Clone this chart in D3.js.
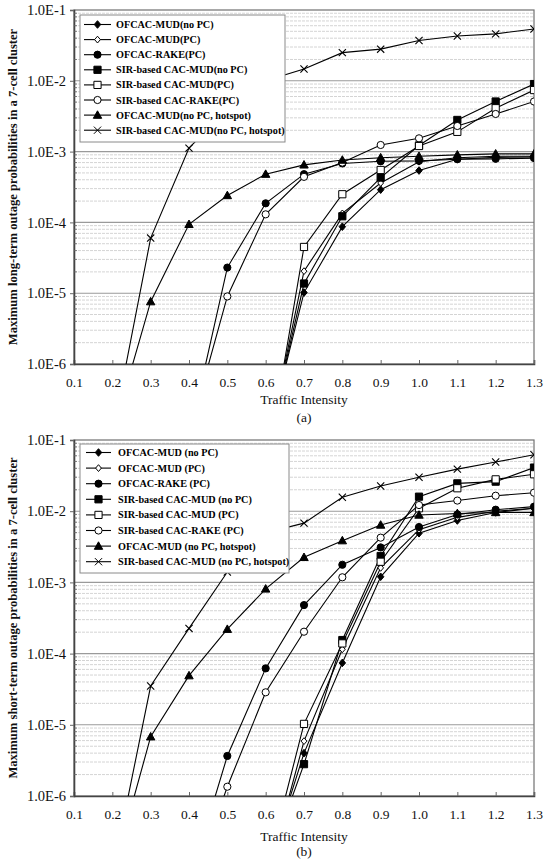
<!DOCTYPE html>
<html><head><meta charset="utf-8">
<script src="https://cdn.jsdelivr.net/npm/d3@7"></script>
<style>body{margin:0;background:#fff}svg{display:block}</style>
</head><body>
<script>
// ---------- data ----------
const traffic = [0.2,0.3,0.4,0.5,0.6,0.7,0.8,0.9,1.0,1.1,1.2,1.3];
const xTickValues = [0.1,0.2,0.3,0.4,0.5,0.6,0.7,0.8,0.9,1.0,1.1,1.3].slice(0,0).concat([0.1,0.2,0.3,0.4,0.5,0.6,0.7,0.8,0.9,1.0,1.1,1.2,1.3]);
const xTickLabels = ["0.1","0.2","0.3","0.4","0.5","0.6","0.7","0.8","0.9","1.0","1.1","1.2","1.3"];
const yTickValues = [1e-6,1e-5,1e-4,1e-3,1e-2,1e-1];
const yTickLabels = ["1.0E-6","1.0E-5","1.0E-4","1.0E-3","1.0E-2","1.0E-1"];

const legendA = ["OFCAC-MUD(no PC)","OFCAC-MUD(PC)","OFCAC-RAKE(PC)","SIR-based CAC-MUD(no PC)","SIR-based CAC-MUD(PC)","SIR-based CAC-RAKE(PC)","OFCAC-MUD(no PC, hotspot)","SIR-based CAC-MUD(no PC, hotspot)"];
const legendB = ["OFCAC-MUD (no PC)","OFCAC-MUD (PC)","OFCAC-RAKE (PC)","SIR-based CAC-MUD (no PC)","SIR-based CAC-MUD (PC)","SIR-based CAC-RAKE (PC)","OFCAC-MUD (no PC, hotspot)","SIR-based CAC-MUD (no PC, hotspot)"];
const markerKinds = ["diamondFilled","diamondOpen","circleFilled","squareFilled","squareOpen","circleOpen","triangle","cross"];

// (a) long-term outage
const a_ofcacMudNoPC = [null,null,null,null,7e-8,1.02e-5,8.7e-5,2.9e-4,5.4e-4,7.8e-4,8.3e-4,8.4e-4];
const a_ofcacMudPC   = [null,null,null,null,5e-8,2.05e-5,1.34e-4,3.6e-4,7.2e-4,8.2e-4,8.6e-4,8.6e-4];
const a_ofcacRakePC  = [null,null,9e-8,2.3e-5,1.86e-4,4.8e-4,6.8e-4,7.3e-4,7.4e-4,7.8e-4,7.9e-4,8.1e-4];
const a_sirMudNoPC   = [null,null,null,null,6e-8,1.37e-5,1.22e-4,4.3e-4,1.22e-3,2.8e-3,5.1e-3,9.0e-3];
const a_sirMudPC     = [null,null,null,null,3e-8,4.5e-5,2.5e-4,5.5e-4,1.2e-3,1.9e-3,4.1e-3,7.4e-3];
const a_sirRakePC    = [null,null,1e-7,9.0e-6,1.3e-4,4.4e-4,7.0e-4,1.24e-3,1.54e-3,2.3e-3,3.4e-3,5.1e-3];
const a_ofcacHot     = [1e-7,7.6e-6,9.4e-5,2.4e-4,4.8e-4,6.5e-4,7.6e-4,8.2e-4,8.6e-4,9.0e-4,9.3e-4,9.3e-4];
const a_sirHot       = [1e-7,6.0e-5,1.12e-3,4.0e-3,1.0e-2,1.47e-2,2.5e-2,2.8e-2,3.7e-2,4.3e-2,4.6e-2,5.4e-2];

// (b) short-term outage
const b_ofcacMudNoPC = [null,null,null,null,8e-8,4.0e-6,7.4e-5,1.2e-3,4.9e-3,7.4e-3,9.6e-3,1.1e-2];
const b_ofcacMudPC   = [null,null,null,null,6e-8,5.9e-6,1.15e-4,1.6e-3,5.5e-3,8.2e-3,1.0e-2,1.1e-2];
const b_ofcacRakePC  = [null,null,6e-8,3.65e-6,6.2e-5,4.8e-4,1.77e-3,3.1e-3,6.0e-3,9.0e-3,1.05e-2,1.16e-2];
const b_sirMudNoPC   = [null,null,null,null,9e-8,2.8e-6,1.55e-4,2.35e-3,1.6e-2,2.46e-2,2.6e-2,4.1e-2];
const b_sirMudPC     = [null,null,null,null,8e-8,1.03e-5,1.39e-4,1.95e-3,1.1e-2,2.1e-2,2.8e-2,3.3e-2];
const b_sirRakePC    = [null,null,4e-8,1.35e-6,2.86e-5,2.03e-4,1.18e-3,4.25e-3,1.22e-2,1.41e-2,1.65e-2,1.82e-2];
const b_ofcacHot     = [7.6e-8,6.8e-6,4.9e-5,2.2e-4,8.1e-4,2.25e-3,3.86e-3,6.4e-3,8.85e-3,9.3e-3,9.6e-3,9.6e-3];
const b_sirHot       = [8e-8,3.5e-5,2.26e-4,1.4e-3,5.0e-3,6.8e-3,1.57e-2,2.26e-2,3.0e-2,3.9e-2,4.9e-2,6.2e-2];

const seriesA = [a_ofcacMudNoPC,a_ofcacMudPC,a_ofcacRakePC,a_sirMudNoPC,a_sirMudPC,a_sirRakePC,a_ofcacHot,a_sirHot];
const seriesB = [b_ofcacMudNoPC,b_ofcacMudPC,b_ofcacRakePC,b_sirMudNoPC,b_sirMudPC,b_sirRakePC,b_ofcacHot,b_sirHot];

// ---------- drawing ----------
const W = 544, H = 860;
const svg = d3.select("body").append("svg").attr("width", W).attr("height", H);
const SERIF = "'Liberation Serif','Times New Roman',serif";

function markerPath(kind){
  switch(kind){
    case "diamondFilled": case "diamondOpen": { const s = kind==="diamondOpen"?3.4:3.8; return `M0,${-s}L${s*0.85},0L0,${s}L${-s*0.85},0Z`; }
    case "circleFilled": case "circleOpen": { const r = 3.6; return `M${r},0A${r},${r} 0 1,1 ${-r},0A${r},${r} 0 1,1 ${r},0Z`; }
    case "squareFilled": case "squareOpen": { const s = 3.6; return `M${-s},${-s}H${s}V${s}H${-s}Z`; }
    case "triangle": return "M0,-4.3L4.2,3.2L-4.2,3.2Z";
    case "cross": return "M-3.6,-3.6L3.6,3.6M-3.6,3.6L3.6,-3.6";
  }
}
function markerFill(kind){
  return (kind.endsWith("Open") ) ? "#fff" : (kind==="cross" ? "none" : "#000");
}

function drawChart(cfg){
  const {top, bottom, series, legend, title, sub, legendBox, legendRows, legendTextX, legendLine} = cfg;
  const left = 74, right = 534;
  const x = d3.scaleLinear().domain([0.1,1.3]).range([left,right]);
  const y = d3.scaleLog().domain([1e-6,1e-1]).range([bottom,top]);
  const g = svg.append("g");
  const clipId = "clip" + top;
  svg.append("clipPath").attr("id", clipId).append("rect")
    .attr("x", left).attr("y", top).attr("width", right-left).attr("height", bottom-top);

  // minor grid
  const minor = [];
  for (let e=-6; e<-1; e++) for (let m=2; m<=9; m++) minor.push(m*Math.pow(10,e));
  g.append("g").selectAll("line").data(minor).join("line")
    .attr("x1", left).attr("x2", right)
    .attr("y1", d=>y(d)).attr("y2", d=>y(d))
    .attr("stroke", "#c9c9c9").attr("stroke-width", 0.8).attr("stroke-dasharray","3,1");
  // major grid
  g.append("g").selectAll("line").data(yTickValues.slice(1,-1)).join("line")
    .attr("x1", left).attr("x2", right)
    .attr("y1", d=>y(d)).attr("y2", d=>y(d))
    .attr("stroke", "#9a9a9a").attr("stroke-width", 1.1);

  // border
  g.append("rect").attr("x", left).attr("y", top).attr("width", right-left).attr("height", bottom-top)
    .attr("fill","none").attr("stroke","#707070").attr("stroke-width",1.2);

  // axes
  const xa = g.append("g").attr("transform", `translate(0,${bottom})`)
    .call(d3.axisBottom(x).tickValues(xTickValues).tickFormat((d,i)=>xTickLabels[i]).tickSize(-4).tickPadding(13));
  xa.select(".domain").attr("stroke","#444").attr("stroke-width",1.6);
  xa.selectAll(".tick line").attr("stroke","#666");
  xa.selectAll("text").attr("font-family", SERIF).attr("font-size", 13.5).attr("fill","#111");

  const ya = g.append("g").attr("transform", `translate(${left},0)`)
    .call(d3.axisLeft(y).tickValues(yTickValues).tickFormat((d,i)=>yTickLabels[i]).tickSize(4).tickPadding(4));
  ya.select(".domain").attr("stroke","#444").attr("stroke-width",1.6);
  ya.selectAll(".tick line").attr("stroke","#666");
  ya.selectAll("text").attr("font-family", SERIF).attr("font-size", 14.5).attr("fill","#111");
  // minor ticks on y axis
  g.append("g").selectAll("line").data(minor).join("line")
    .attr("x1", left).attr("x2", left+3).attr("y1", d=>y(d)).attr("y2", d=>y(d))
    .attr("stroke","#666").attr("stroke-width",0.8);

  // series
  const line = d3.line().defined(d=>d.v!==null).x(d=>x(d.t)).y(d=>y(d.v));
  const plot = g.append("g").attr("clip-path", `url(#${clipId})`);
  series.forEach((vals, si) => {
    const pts = traffic.map((t,i)=>({t, v: vals[i]}));
    plot.append("path").datum(pts).attr("d", line)
      .attr("fill","none").attr("stroke","#000").attr("stroke-width",1.1);
  });
  series.forEach((vals, si) => {
    const kind = markerKinds[si];
    const pts = traffic.map((t,i)=>({t, v: vals[i]})).filter(d=>d.v!==null && d.v>=1e-6);
    plot.append("g").selectAll("path").data(pts).join("path")
      .attr("transform", d=>`translate(${x(d.t)},${y(d.v)})`)
      .attr("d", markerPath(kind))
      .attr("fill", markerFill(kind))
      .attr("stroke","#000").attr("stroke-width", kind==="cross"?1.1:1);
  });

  // legend
  const lg = g.append("g");
  lg.append("rect").attr("x", legendBox[0]).attr("y", legendBox[1]).attr("width", legendBox[2]).attr("height", legendBox[3])
    .attr("fill","#fff").attr("stroke","#8a8a8a").attr("stroke-width",1);
  legend.forEach((name,i)=>{
    const yy = legendRows[0] + i*legendRows[1];
    lg.append("line").attr("x1", legendLine[0]).attr("x2", legendLine[1]).attr("y1", yy).attr("y2", yy)
      .attr("stroke","#000").attr("stroke-width",1.1);
    const kind = markerKinds[i];
    lg.append("path").attr("transform", `translate(${(legendLine[0]+legendLine[1])/2},${yy})`)
      .attr("d", markerPath(kind)).attr("fill", markerFill(kind)).attr("stroke","#000").attr("stroke-width",1);
    lg.append("text").attr("x", legendTextX).attr("y", yy).attr("dy","0.35em")
      .attr("font-family", SERIF).attr("font-weight","bold").attr("font-size", 10.2)
      .attr("fill","#000").text(name);
  });

  // axis titles
  g.append("text").attr("x", (left+right)/2).attr("y", cfg.xTitleY)
    .attr("text-anchor","middle").attr("font-family", SERIF).attr("font-size", 13.5).attr("fill","#111")
    .text("Traffic Intensity");
  g.append("text").attr("x", (left+right)/2).attr("y", cfg.subY)
    .attr("text-anchor","middle").attr("font-family", SERIF).attr("font-size", 13.5).attr("fill","#111")
    .text(sub);
  g.append("text").attr("transform", `translate(17,${(top+bottom)/2}) rotate(-90)`)
    .attr("text-anchor","middle").attr("font-family", SERIF).attr("font-weight","bold").attr("font-size", 12.6).attr("fill","#111")
    .text(title);
}

drawChart({top:10, bottom:364, series:seriesA, legend:legendA,
  title:"Maximum long-term outage probabilities in a 7-cell cluster", sub:"(a)",
  legendBox:[80,15,205,127], legendRows:[24.5,15.1], legendTextX:116, legendLine:[84,111],
  xTitleY:404, subY:422});
drawChart({top:440, bottom:796, series:seriesB, legend:legendB,
  title:"Maximum short-term outage probabilities in a 7-cell cluster", sub:"(b)",
  legendBox:[80,444,209,129], legendRows:[452.5,15.6], legendTextX:118, legendLine:[86,111],
  xTitleY:841, subY:856});
</script>
</body></html>
